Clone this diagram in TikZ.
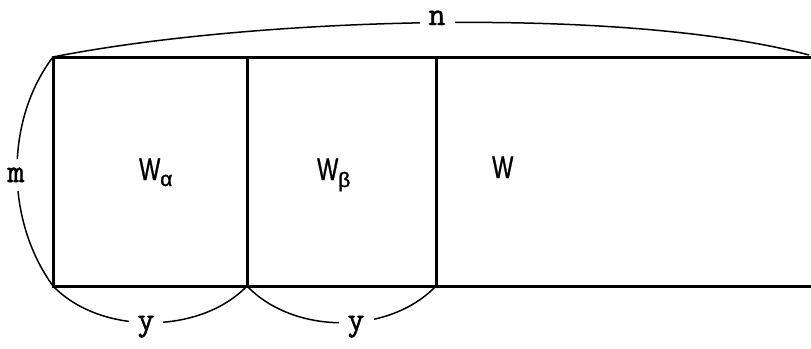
\documentclass[tikz,border=0pt]{standalone}
\usepackage{fontspec}
\usepackage{graphicx}
\newfontfamily\wfont[FakeBold=1.2]{Liberation Sans}
\newfontfamily\tyfont[FakeBold=1.5]{Latin Modern Mono}
\tikzset{
  frame/.style={line width=3pt},
  dimarc/.style={line width=1.5pt},
  dimlabel/.style={fill=white,inner xsep=9pt,inner ysep=4pt,anchor=base,font=\tyfont\fontsize{33}{33}\selectfont},
  wlabel/.style={inner sep=0pt,anchor=base west,font=\wfont\fontsize{31}{31}\selectfont},
}
\newcommand{\narrowW}{\scalebox{0.72}[1]{W}}
\begin{document}
\begin{tikzpicture}[x=1pt,y=-1pt]
\useasboundingbox (0,0) rectangle (811,348);
\coordinate (tl) at (53,57);
\coordinate (bl) at (53,286);
\coordinate (t1) at (247,57);
\coordinate (b1) at (247,286);
\coordinate (t2) at (436,57);
\coordinate (b2) at (436,286);
\coordinate (tr) at (812,57);
\coordinate (br) at (812,286);
\coordinate (nend) at (809,55);
% frame
\draw[frame] (tr) -- (tl) -- (bl) -- (br);
\draw[frame] (t1) -- (b1);
\draw[frame] (t2) -- (b2);
% dimension arcs
\draw[dimarc] (tl) .. controls (250,18) and (620,5) .. (nend);
\draw[dimarc] (tl) .. controls (5,120) and (5,220) .. (bl);
\draw[dimarc] (bl) .. controls (100,335) and (200,335) .. (b1);
\draw[dimarc] (b1) .. controls (294,335) and (389,335) .. (b2);
% labels
\node[dimlabel] (n) at (437,25) {n};
\node[dimlabel,inner xsep=1pt,inner ysep=9pt] (m) at (16,182) {m};
\node[dimlabel] (y1) at (146,330) {y};
\node[dimlabel] (y2) at (356,330) {y};
\node[wlabel] (wa) at (139,180) {\narrowW\raisebox{-6pt}{\fontsize{21}{21}\selectfont α}};
\node[wlabel] (wb) at (317,180) {\narrowW\raisebox{-7pt}{\fontsize{21}{21}\selectfont β}};
\node[wlabel] (w) at (492,178) {\narrowW};
\end{tikzpicture}
\end{document}
